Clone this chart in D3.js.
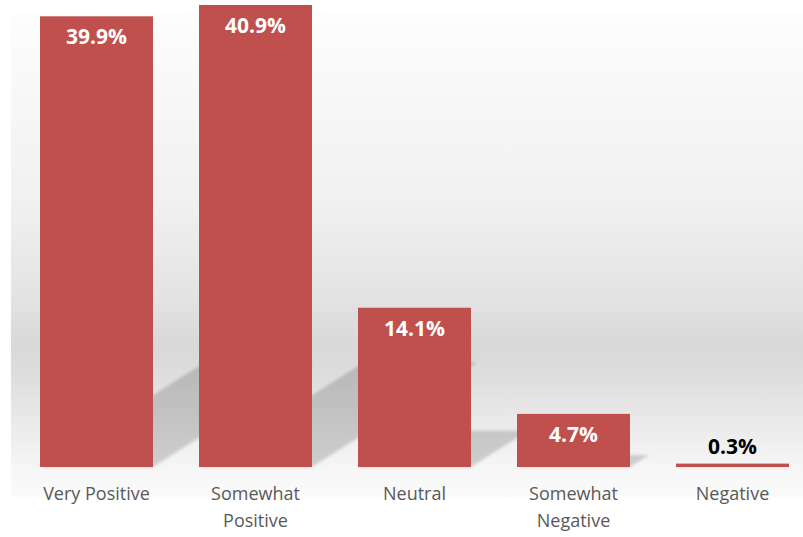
<!DOCTYPE html>
<html>
<head>
<meta charset="utf-8">
<script src="https://cdn.jsdelivr.net/npm/d3@7"></script>
<style>
  html, body { margin: 0; padding: 0; background: #fff; }
  svg { display: block; }
</style>
</head>
<body>
<svg id="chart" width="803" height="537"></svg>
<script>
// Survey sentiment distribution (percent of responses)
const categories = ["Very Positive", "Somewhat Positive", "Neutral", "Somewhat Negative", "Negative"];
const values = [39.9, 40.9, 14.1, 4.7, 0.3];
const valueLabels = ["39.9%", "40.9%", "14.1%", "4.7%", "0.3%"];

const W = 803, H = 537;
const baseY = 467;
const svg = d3.select("#chart");
const defs = svg.append("defs");

// Plot-area background: soft vertical grey gradient
const bg = defs.append("linearGradient").attr("id", "bgGrad")
  .attr("x1", 0).attr("y1", 0).attr("x2", 0).attr("y2", 1);
[[0, "#fdfdfd"], [0.38, "#f1f1f1"], [0.59, "#e3e3e3"], [0.685, "#d8d8d8"],
 [0.76, "#dfdfdf"], [0.94, "#f6f6f6"], [1, "#fbfbfb"]]
  .forEach(([o, c]) => bg.append("stop").attr("offset", o).attr("stop-color", c));

const blur = defs.append("filter").attr("id", "shadowBlur")
  .attr("x", "-20%").attr("y", "-20%").attr("width", "140%").attr("height", "140%");
blur.append("feGaussianBlur").attr("stdDeviation", 1.6);

svg.append("rect").attr("x", 11).attr("y", 14).attr("width", W - 11).attr("height", 483)
  .attr("fill", "url(#bgGrad)");

const x = d3.scaleBand().domain(categories).range([17, 812])
  .paddingInner(46 / 159).paddingOuter(23 / 159);
const y = d3.scaleLinear().domain([0, 40.9]).range([baseY, 5]);

const data = categories.map((c, i) => ({ c, v: values[i], label: valueLabels[i] }));

// Perspective shadows cast up and to the right of each bar
const shearX = 0.357, scaleY = 0.227;
svg.append("g").attr("filter", "url(#shadowBlur)")
  .selectAll("path").data(data).join("path")
  .attr("d", d => {
    const x0 = x(d.c), x1 = x0 + x.bandwidth(), y0 = y(0);
    const h = y(0) - y(d.v);
    const dx = h * shearX, dy = h * scaleY;
    return `M${x0},${y0}L${x1},${y0}L${x1 + dx},${y0 - dy}L${x0 + dx},${y0 - dy}Z`;
  })
  .attr("fill", "#000").attr("fill-opacity", 0.16);

// Bars
svg.append("g").selectAll("rect").data(data).join("rect")
  .attr("x", d => x(d.c))
  .attr("y", d => y(d.v))
  .attr("width", x.bandwidth())
  .attr("height", d => y(0) - y(d.v))
  .attr("fill", "#c0504d");

// Value labels: inside the bar when it is tall enough, above it otherwise
svg.append("g").selectAll("text").data(data).join("text")
  .attr("x", d => x(d.c) + x.bandwidth() / 2)
  .attr("y", d => (y(0) - y(d.v)) > 30 ? y(d.v) + 28 : y(d.v) - 10)
  .attr("text-anchor", "middle")
  .attr("font-family", "'Open Sans', sans-serif")
  .attr("font-weight", 700)
  .attr("font-size", 21)
  .attr("fill", d => (y(0) - y(d.v)) > 30 ? "#ffffff" : "#000000")
  .text(d => d.label);

// Category axis labels, wrapped onto two lines where needed
const xAxis = d3.axisBottom(x).tickSize(0).tickPadding(0);
const gx = svg.append("g").attr("transform", `translate(0,${baseY})`).call(xAxis);
gx.select(".domain").remove();
gx.selectAll(".tick text")
  .attr("font-family", "'Open Sans', sans-serif")
  .attr("font-size", 18)
  .attr("fill", "#595959")
  .attr("dy", null)
  .attr("y", 0)
  .each(function (d) {
    const t = d3.select(this);
    const words = d.split(" ");
    t.text(null);
    const lines = [];
    let line = [];
    const probe = t.append("tspan");
    words.forEach(w => {
      const test = line.concat(w).join(" ");
      probe.text(test);
      if (probe.node().getComputedTextLength() > 130 && line.length) {
        lines.push(line.join(" "));
        line = [w];
      } else line.push(w);
    });
    lines.push(line.join(" "));
    probe.remove();
    lines.forEach((l, i) => t.append("tspan").attr("x", 0).attr("y", 33 + i * 27).text(l));
  });
</script>
</body>
</html>
